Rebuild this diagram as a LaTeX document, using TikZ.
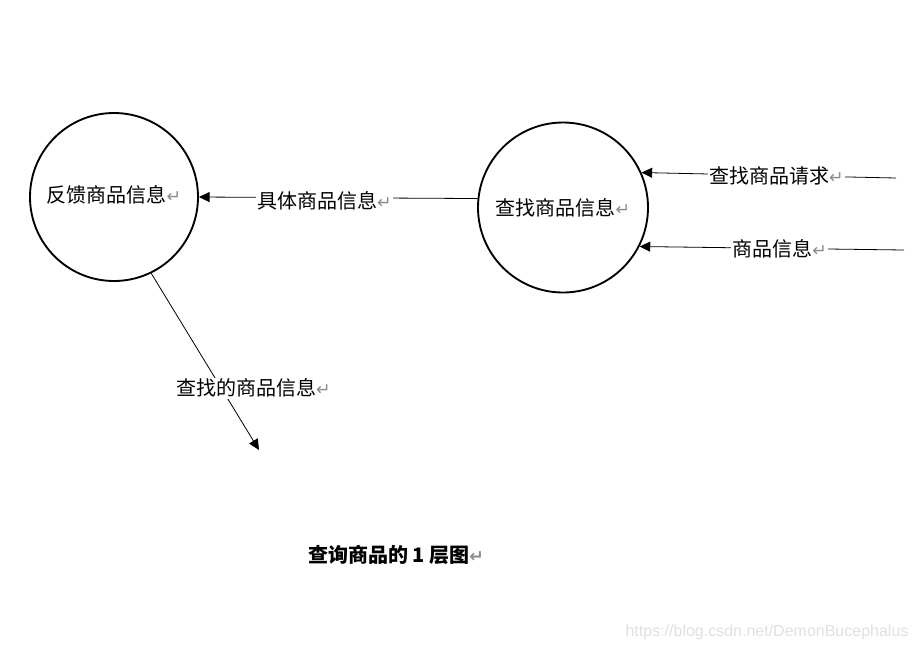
\documentclass[tikz,border=0pt]{standalone}
\usepackage{fontspec}
\setmainfont{Noto Sans CJK SC}
\newfontfamily\dejavu{DejaVu Sans}
\newfontfamily\arial{Liberation Sans}
\usetikzlibrary{arrows.meta,positioning}
\newcommand{\retmark}{{\dejavu\fontsize{13}{13}\selectfont\textcolor{black!45}{↵}}}

\begin{document}
\begin{tikzpicture}[
        x=0.75pt, y=-0.75pt,
        proc/.style={draw, circle, line width=1.4pt, minimum size=126pt, inner sep=0pt, font=\fontsize{15}{18}\selectfont},
        lbl/.style={fill=white, inner sep=1pt, font=\fontsize{15}{18}\selectfont},
        flow/.style={-{Triangle[length=8pt,width=7.5pt]}, line width=0.6pt},
    ]
        \useasboundingbox (0,0) rectangle (917,651);
        \node[proc] (fb) at (114,197) {\raisebox{4pt}{反馈商品信息\retmark}};
        \node[proc, minimum size=127.5pt] (find) at (563,207.5) {查找商品信息\retmark};
        \coordinate (reqsrc) at (896,178);
        \coordinate (infosrc) at (904,250);
        \coordinate (foundend) at (259,450);
        \draw[flow] (reqsrc) -- node[lbl, pos=0.47] (req) {查找商品请求\retmark} (find.24);
        \draw[flow] (infosrc) -- node[lbl, pos=0.47] (info) {商品信息\retmark} (find.-27);
        \draw[flow] (find.174) -- node[lbl, pos=0.55, yshift=-2pt] (detail) {具体商品信息\retmark} (fb.east);
        \draw[flow] (fb.-64) -- node[lbl, pos=0.65, xshift=24pt] (found) {查找的商品信息\retmark} (foundend);
        \node[font=\bfseries\fontsize{15}{18}\selectfont] (title) at (396,555) {查询商品的 1 层图\retmark};
        \node[font=\arial\fontsize{12}{14}\selectfont, text=black!12] (mark) at (767,632) {https://blog.csdn.net/DemonBucephalus};
    \end{tikzpicture}
\end{document}
